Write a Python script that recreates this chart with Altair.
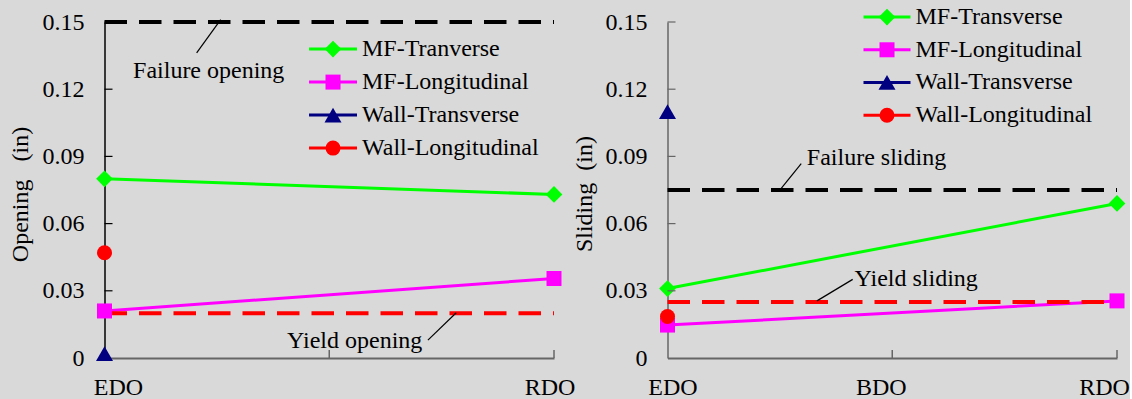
import json
import pandas as pd
import altair as alt

# ---------------- data ----------------
categories = ["EDO", "BDO", "RDO"]
cat_index = [0, 1, 2]

opening_series = ["MF-Tranverse", "MF-Longitudinal", "Wall-Transverse", "Wall-Longitudinal"]
opening_mf_transverse = [0.080, None, 0.073]
opening_mf_longitudinal = [0.021, None, 0.0355]
opening_wall_transverse = [0.002, None, None]
opening_wall_longitudinal = [0.047, None, None]

sliding_series = ["MF-Transverse", "MF-Longitudinal", "Wall-Transverse", "Wall-Longitudinal"]
sliding_mf_transverse = [0.031, None, 0.069]
sliding_mf_longitudinal = [0.0147, None, 0.0255]
sliding_wall_transverse = [0.110, None, None]
sliding_wall_longitudinal = [0.0185, None, None]

opening_limits = [0.15, 0.02]      # failure, yield
sliding_limits = [0.075, 0.025]    # failure, yield
opening_notes = ["Failure opening", "Yield opening"]
sliding_notes = ["Failure sliding", "Yield sliding"]

y_ticks = [0, 0.03, 0.06, 0.09, 0.12, 0.15]
opening_x_labels = ["EDO", "", "RDO"]
sliding_x_labels = ["EDO", "BDO", "RDO"]

# ---------------- style ----------------
FONT = "Liberation Serif"
FS = 24
W, H = 449.5, 336
COLORS = ["#00ff00", "#ff00ff", "#000080", "#ff0000"]
SHAPES = ["diamond", "square", "triangle-up", "circle"]
SIZES = [280, 225, 289, 225]
LIMIT_COLORS = ["black", "#ff0000"]


def long_df(names, series_values):
    rows = []
    for name, vals in zip(names, series_values):
        for i, cat, v in zip(cat_index, categories, vals):
            if v is not None:
                rows.append({"series": name, "idx": i, "cat": cat, "value": v})
    return pd.DataFrame(rows)


def panel(names, series_values, limits, notes, note_pos, leader_pos, title,
          x_labels, label_offsets, legend_box, yaxis_color, title_x, title_y):
    df = long_df(names, series_values)
    # legend placement (in the panel's own data units): line start/end, text start, first row, row step
    lx0, lx1, ltx, ly0, lstep = legend_box
    legend_df = pd.DataFrame({
        "series": names,
        "lx0": [lx0] * len(names),
        "lx1": [lx1] * len(names),
        "lxc": [(lx0 + lx1) / 2] * len(names),
        "ltx": [ltx] * len(names),
        "ly": [ly0 - k * lstep for k in range(len(names))],
    })

    xs = alt.Scale(domain=[cat_index[0], cat_index[-1]], nice=False, zero=False)
    ys = alt.Scale(domain=[y_ticks[0], y_ticks[-1]], nice=False, zero=True)
    cs = alt.Scale(domain=names, range=COLORS)
    xaxis = alt.Axis(
        values=cat_index,
        labelExpr=json.dumps(x_labels) + "[datum.value]",
        labelOffset={"condition": [{"test": "datum.value == 0", "value": label_offsets[0]},
                                   {"test": "datum.value == 1", "value": label_offsets[1]}],
                     "value": label_offsets[2]},
        tickSize=0, labelPadding=17, domainColor="#666666", domainWidth=2,
        grid=False, labelFont=FONT, labelFontSize=FS, labelColor="black",
        title=None, labelFlush=False, labelOverlap=False,
    )
    yaxis = alt.Axis(
        values=y_ticks,
        labelExpr="datum.value == 0 ? '0' : format(datum.value, '.2f')",
        tickSize=0, labelPadding=20.5, domainColor=yaxis_color, domainWidth=1.5,
        grid=False, labelFont=FONT, labelFontSize=FS, labelColor="black",
        title=title, titleFont=FONT, titleFontSize=FS, titleFontWeight="normal",
        titleColor="black", titleX=title_x, titleY=title_y, titleBaseline="bottom",
        titleAlign="center", titleLimit=400, labelFlush=False, labelOverlap=False,
    )

    def X(field):
        return alt.X(field, type="quantitative", scale=xs, axis=xaxis)

    def Y(field):
        return alt.Y(field, type="quantitative", scale=ys, axis=yaxis)

    layers = []
    # series lines
    layers.append(
        alt.Chart(df).mark_line(strokeWidth=3).encode(
            x=X("idx"), y=Y("value"),
            color=alt.Color("series:N", scale=cs, legend=None),
            order="idx:Q",
        )
    )
    # limit lines (failure / yield)
    for lim, col in zip(limits, LIMIT_COLORS):
        ldf = pd.DataFrame({"v": [lim], "x0": [cat_index[0]], "x1": [cat_index[-1]]})
        layers.append(
            alt.Chart(ldf).mark_rule(color=col, strokeWidth=4, strokeDash=[22.5, 12]).encode(
                x=X("x0"), x2="x1", y=Y("v")
            )
        )
    # legend line segments
    layers.append(
        alt.Chart(legend_df).mark_rule(strokeWidth=3).encode(
            x=X("lx0"), x2="lx1", y=Y("ly"),
            color=alt.Color("series:N", scale=cs, legend=None),
        )
    )
    # markers (data points and legend keys)
    for name, col, shp, sz in zip(names, COLORS, SHAPES, SIZES):
        layers.append(
            alt.Chart(df).transform_filter(alt.datum.series == name)
            .mark_point(filled=True, shape=shp, size=sz, color=col, opacity=1)
            .encode(x=X("idx"), y=Y("value"))
        )
        layers.append(
            alt.Chart(legend_df).transform_filter(alt.datum.series == name)
            .mark_point(filled=True, shape=shp, size=sz, color=col, opacity=1)
            .encode(x=X("lxc"), y=Y("ly"))
        )
    # legend labels
    layers.append(
        alt.Chart(legend_df).mark_text(font=FONT, fontSize=FS, align="left", baseline="middle",
                                       color="black").encode(x=X("ltx"), y=Y("ly"), text="series:N")
    )
    # leader lines
    lead = pd.DataFrame(leader_pos, columns=["x0", "y0", "x1", "y1"])
    layers.append(
        alt.Chart(lead).mark_rule(color="black", strokeWidth=1.2).encode(
            x=X("x0"), y=Y("y0"), x2="x1", y2="y1"
        )
    )
    # annotation texts
    ann = pd.DataFrame({"note": notes, "x": [p[0] for p in note_pos], "y": [p[1] for p in note_pos]})
    layers.append(
        alt.Chart(ann).mark_text(font=FONT, fontSize=FS, align="left", baseline="alphabetic",
                                 color="black").encode(x=X("x"), y=Y("y"), text="note:N")
    )
    # inner ticks
    yt = pd.DataFrame({"v": y_ticks[1:]})
    layers.append(
        alt.Chart(yt).mark_rule(color=yaxis_color, strokeWidth=1.2).encode(
            y=Y("v"), x=alt.value(0), x2=alt.value(8)
        )
    )
    xt = pd.DataFrame({"v": cat_index[1:]})
    layers.append(
        alt.Chart(xt).mark_rule(color="#666666", strokeWidth=1.5).encode(
            x=X("v"), y=alt.value(H), y2=alt.value(H - 8)
        )
    )
    return alt.layer(*layers).properties(width=W, height=H)


left = panel(
    opening_series,
    [opening_mf_transverse, opening_mf_longitudinal, opening_wall_transverse, opening_wall_longitudinal],
    opening_limits, opening_notes,
    note_pos=[(0.127, 0.1249), (0.812, 0.0045)],
    leader_pos=[(0.410, 0.1362, 0.517, 0.1511), (1.439, 0.0080, 1.565, 0.0202)],
    title="Opening\u00a0\u00a0\u00a0(in)",
    x_labels=opening_x_labels, label_offsets=[13.5, 0, -4.5],
    legend_box=(0.910, 1.1235, 1.1457, 0.1379, 0.01473),
    yaxis_color="black", title_x=-72, title_y=172,
)

right = panel(
    sliding_series,
    [sliding_mf_transverse, sliding_mf_longitudinal, sliding_wall_transverse, sliding_wall_longitudinal],
    sliding_limits, sliding_notes,
    note_pos=[(0.62, 0.0861), (0.832, 0.0322)],
    leader_pos=[(0.506, 0.0757, 0.595, 0.0868), (0.665, 0.0255, 0.824, 0.0351)],
    title="Sliding\u00a0\u00a0(in)",
    x_labels=sliding_x_labels, label_offsets=[5, -11.5, -13],
    legend_box=(0.8721, 1.0812, 1.1034, 0.1522, 0.0146),
    yaxis_color="#666666", title_x=-71.3, title_y=171.6,
)

chart = (
    alt.hconcat(left, right, spacing=113, bounds="flush")
    .resolve_scale(x="independent", y="independent", color="independent")
    .configure(background="#d9d9d9", padding={"left": 8.5, "top": 5, "right": 0, "bottom": 0})
    .configure_view(stroke=None)
    .configure_axis(labelFont=FONT, labelFontSize=FS, titleFont=FONT, titleFontSize=FS,
                    titleFontWeight="normal")
)

chart.save("out.html", embed_options={"renderer": "svg", "actions": False})
